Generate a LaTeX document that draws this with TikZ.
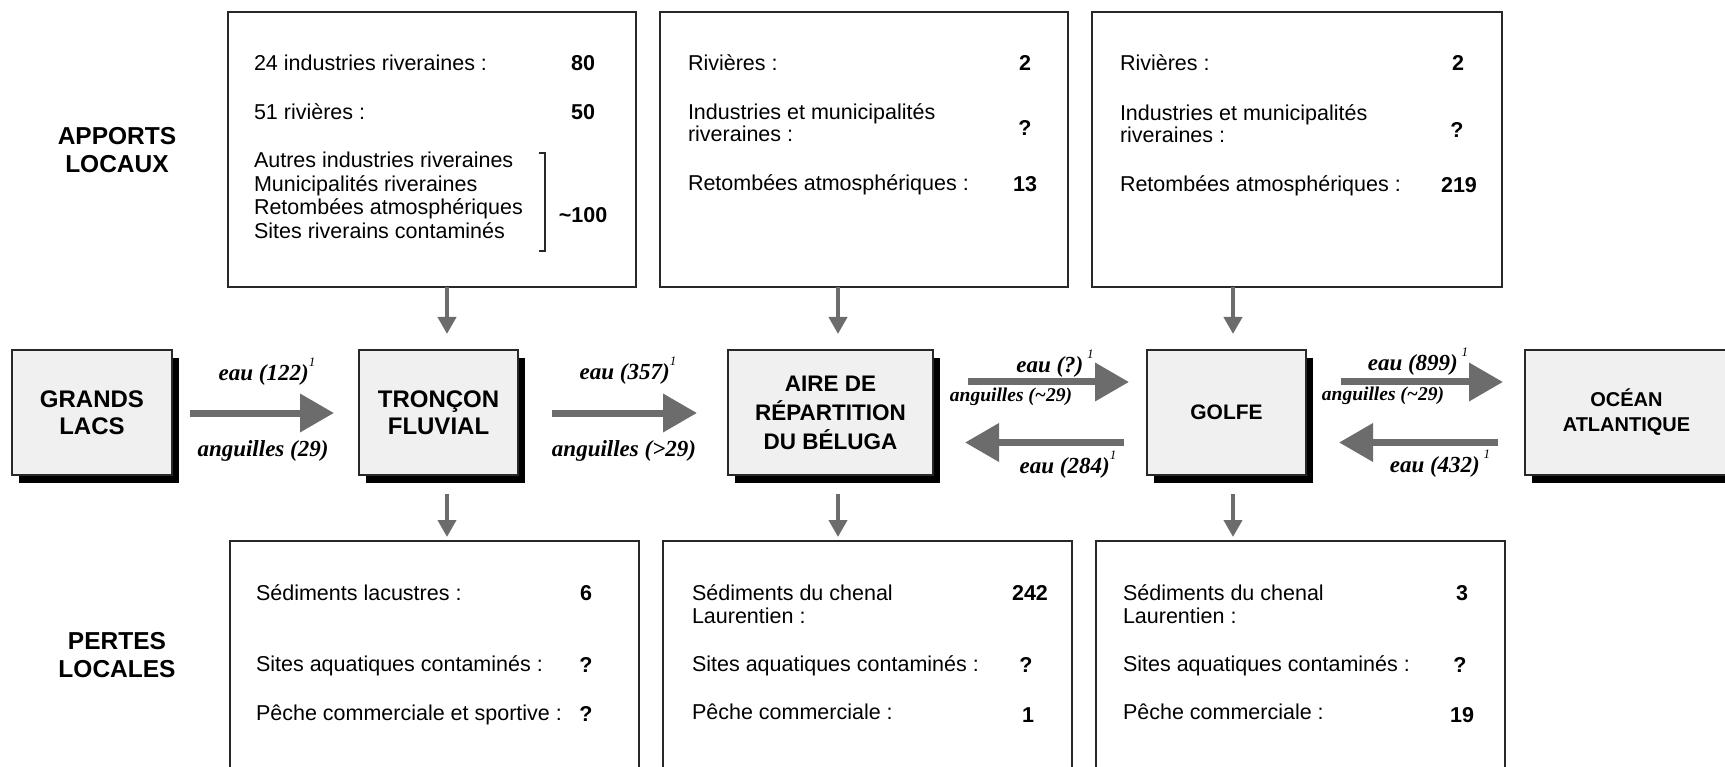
\documentclass[tikz,border=0pt]{standalone}
\usepackage{fontspec}
\setmainfont{Liberation Sans}
\newfontfamily\lblfont{Liberation Serif}
\usetikzlibrary{arrows.meta,shadows}
\definecolor{agray}{RGB}{108,108,108}
\definecolor{bfill}{RGB}{240,240,240}
\definecolor{bline}{RGB}{40,40,40}
\newcommand\fnmark{\raisebox{0.6em}{\mdseries\fontsize{13pt}{13pt}\selectfont 1}}
\begin{document}
\begin{tikzpicture}[x=1pt,y=-1pt,
  every node/.style={inner sep=0pt, outer sep=0pt},
  infobox/.style={draw=bline, line width=1.4pt, fill=white},
  mainbox/.style={draw=bline, line width=1.4pt, fill=bfill, minimum height=125pt, align=center,
    drop shadow={shadow xshift=7pt, shadow yshift=-8pt, fill=black, opacity=1}},
  title/.style={font=\fontsize{24pt}{27pt}\selectfont\bfseries},
  section/.style={align=center, font=\fontsize{24.5pt}{28pt}\selectfont\bfseries},
  txt/.style={anchor=west, font=\fontsize{21.5pt}{23pt}\selectfont, text height=15.4pt, text depth=0pt},
  val/.style={anchor=center, font=\fontsize{21.5pt}{23pt}\selectfont\bfseries, text height=15.4pt, text depth=0pt},
  flow/.style={font=\lblfont\bfseries\itshape\fontsize{23pt}{25pt}\selectfont},
  smallflow/.style={font=\lblfont\bfseries\itshape\fontsize{19.5pt}{21pt}\selectfont},
  harrow/.style={agray, line width=7pt, -{Triangle[length=34pt,width=37pt]}},
  varrow/.style={agray, line width=4pt, -{Triangle[length=17pt,width=18pt]}},
  bracket/.style={bline, line width=1.3pt}
]
\useasboundingbox (0,0) rectangle (1725,767);
\clip (0,0) rectangle (1725,767);

% section labels
\node[section] (apports) at (117,150) {APPORTS\\LOCAUX};
\node[section] (pertes) at (117,655) {PERTES\\LOCALES};

% top boxes
\node[infobox, minimum width=408pt, minimum height=275pt] (tA) at (432,149.5) {};
\node[infobox, minimum width=408pt, minimum height=275pt] (tB) at (864,149.5) {};
\node[infobox, minimum width=410pt, minimum height=275pt] (tC) at (1297,149.5) {};

% bottom boxes
\node[infobox, minimum width=409pt, minimum height=259pt] (bA) at (434.5,670.5) {};
\node[infobox, minimum width=409pt, minimum height=259pt] (bB) at (867.5,670.5) {};
\node[infobox, minimum width=409pt, minimum height=259pt] (bC) at (1300.5,670.5) {};

% main boxes
\node[mainbox, title, minimum width=160pt] (gl) at (92,412.5) {GRANDS\\LACS};
\node[mainbox, title, minimum width=159pt] (tf) at (438.5,412.5) {TRONÇON\\FLUVIAL};
\node[mainbox, minimum width=205pt, font=\fontsize{22.5pt}{29pt}\selectfont\bfseries] (aire) at (830.5,412.5) {AIRE DE\\RÉPARTITION\\DU BÉLUGA};
\node[mainbox, minimum width=159pt, font=\fontsize{21pt}{24pt}\selectfont\bfseries] (golfe) at (1226.5,412.5) {GOLFE};
\node[mainbox, minimum width=203pt, font=\fontsize{20pt}{25pt}\selectfont\bfseries] (ocean) at (1626.5,412.5) {OCÉAN\\ATLANTIQUE};

% top box A text
\node[txt] (a1) at (254,62.5) {24 industries riveraines :};
\node[val] (a1v) at (583,62.5) {80};
\node[txt] (a2) at (254,112) {51 rivières :};
\node[val] (a2v) at (583,112) {50};
\node[txt] (a3) at (254,160) {Autres industries riveraines};
\node[txt] (a4) at (254,183.5) {Municipalités riveraines};
\node[txt] (a5) at (254,207) {Retombées atmosphériques};
\node[txt] (a6) at (254,230.5) {Sites riverains contaminés};
\node[val] (a7v) at (583,215) {\textasciitilde100};
\draw[bracket] (539,153) -- (545,153) -- (545,251) -- (539,251);

% top box B text
\node[txt] (b1) at (688,62.5) {Rivières :};
\node[val] (b1v) at (1025,62.5) {2};
\node[txt] (b2) at (688,112) {Industries et municipalités};
\node[txt] (b3) at (688,134) {riveraines :};
\node[val] (b3v) at (1025,128) {?};
\node[txt] (b4) at (688,182.5) {Retombées atmosphériques :};
\node[val] (b4v) at (1025,184) {13};

% top box C text
\node[txt] (c1) at (1120,63) {Rivières :};
\node[val] (c1v) at (1458,63) {2};
\node[txt] (c2) at (1120,112.5) {Industries et municipalités};
\node[txt] (c3) at (1120,135) {riveraines :};
\node[val] (c3v) at (1457,130) {?};
\node[txt] (c4) at (1120,184) {Retombées atmosphériques :};
\node[val] (c4v) at (1459,185) {219};

% bottom box A text
\node[txt] (d1) at (256,592.5) {Sédiments lacustres :};
\node[val] (d1v) at (586,592.5) {6};
\node[txt] (d2) at (256,663.5) {Sites aquatiques contaminés :};
\node[val] (d2v) at (586,664.5) {?};
\node[txt] (d3) at (256,713) {Pêche commerciale et sportive :};
\node[val] (d3v) at (586,714) {?};

% bottom box B text
\node[txt] (e1) at (692,592.5) {Sédiments du chenal};
\node[txt] (e2) at (692,615.5) {Laurentien :};
\node[val] (e1v) at (1030,592.5) {242};
\node[txt] (e3) at (692,664) {Sites aquatiques contaminés :};
\node[val] (e3v) at (1026,664.5) {?};
\node[txt] (e4) at (692,712) {Pêche commerciale :};
\node[val] (e4v) at (1028,715) {1};

% bottom box C text
\node[txt] (f1) at (1123,592.5) {Sédiments du chenal};
\node[txt] (f2) at (1123,615.5) {Laurentien :};
\node[val] (f1v) at (1462,592.5) {3};
\node[txt] (f3) at (1123,664) {Sites aquatiques contaminés :};
\node[val] (f3v) at (1460,664.5) {?};
\node[txt] (f4) at (1123,712) {Pêche commerciale :};
\node[val] (f4v) at (1462,715) {19};

% vertical arrow guides
\coordinate (v1) at (447,0);
\coordinate (v2) at (838,0);
\coordinate (v3) at (1233,0);
\draw[varrow, shorten >=16pt] (tA.south -| v1) -- (tf.north -| v1);
\draw[varrow, shorten >=16pt] (tB.south -| v2) -- (aire.north -| v2);
\draw[varrow, shorten >=16pt] (tC.south -| v3) -- (golfe.north -| v3);
\draw[varrow, shorten <=19pt, shorten >=4pt] (tf.south -| v1) -- (bA.north -| v1);
\draw[varrow, shorten <=19pt, shorten >=4pt] (aire.south -| v2) -- (bB.north -| v2);
\draw[varrow, shorten <=19pt, shorten >=4pt] (golfe.south -| v3) -- (bC.north -| v3);

% horizontal flows
\coordinate (hmid) at (0,413);
\coordinate (hup) at (0,382);
\coordinate (hlow) at (0,442.5);
\draw[harrow, shorten <=18pt, shorten >=25pt] (gl.east |- hmid) -- (tf.west |- hmid);
\draw[harrow, shorten <=34pt, shorten >=31pt] (tf.east |- hmid) -- (aire.west |- hmid);
\draw[harrow, shorten <=35pt, shorten >=18pt] (aire.east |- hup) -- (golfe.west |- hup);
\draw[harrow, shorten <=23pt, shorten >=32pt] (golfe.west |- hlow) -- (aire.east |- hlow);
\draw[harrow, shorten <=35pt, shorten >=22pt] (golfe.east |- hup) -- (ocean.west |- hup);
\draw[harrow, shorten <=27pt, shorten >=33pt] (ocean.west |- hlow) -- (golfe.east |- hlow);

% flow labels
\node[flow] (l1) at (267,372) {eau (122)\fnmark};
\node[flow] (l2) at (263,451) {anguilles (29)};
\node[flow] (l3) at (628,371) {eau (357)\fnmark};
\node[flow] (l4) at (624,451) {anguilles (>29)};
\node[flow] (l5) at (1055,364) {eau (?)\,\fnmark};
\node[smallflow] (l6) at (1011,397) {anguilles (\textasciitilde29)};
\node[flow] (l7) at (1068,465) {eau (284)\fnmark};
\node[flow] (l8) at (1418,362) {eau (899)\,\fnmark};
\node[smallflow] (l9) at (1383,396) {anguilles (\textasciitilde29)};
\node[flow] (l10) at (1440,464) {eau (432)\,\fnmark};
\end{tikzpicture}
\end{document}
